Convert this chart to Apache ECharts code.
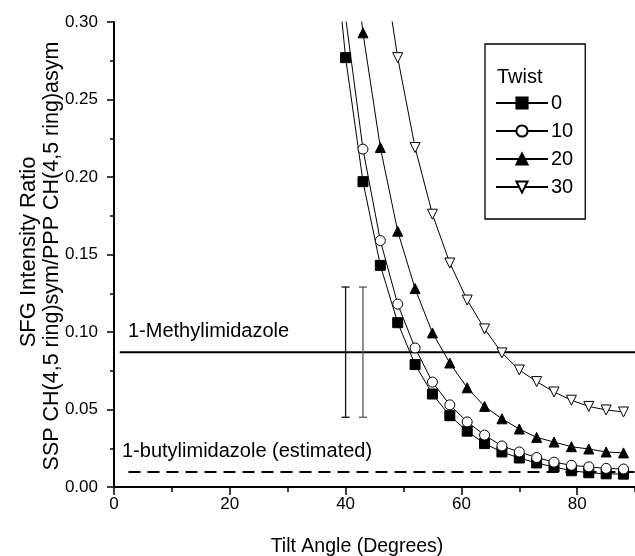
<!DOCTYPE html>
<html>
<head>
<meta charset="utf-8">
<script src="https://cdn.jsdelivr.net/npm/echarts@6/dist/echarts.min.js"></script>
<style>
	html, body { margin: 0; padding: 0; background: #fff; }
	#chart { width: 635px; height: 556px; }
</style>
</head>
<body>
<div id="chart"></div>
<script>
	// tilt angle (degrees) of each computed point
	var tilt = [37, 40, 43, 46, 49, 52, 55, 58, 61, 64, 67, 70, 73, 76, 79, 82, 85, 88];
	// ratio for each twist angle (values above 0.30 run off the top of the plot)
	var twist0 = [0.39, 0.277, 0.197, 0.143, 0.106, 0.079, 0.060, 0.046, 0.036, 0.028, 0.0226, 0.0187, 0.0155, 0.0129, 0.0105, 0.0092, 0.0085, 0.0083];
	var twist10 = [null, 0.303, 0.218, 0.159, 0.118, 0.0897, 0.0677, 0.053, 0.042, 0.0335, 0.0265, 0.0226, 0.019, 0.016, 0.014, 0.013, 0.012, 0.0116];
	var twist20 = [null, 0.39, 0.293, 0.219, 0.165, 0.128, 0.0994, 0.080, 0.064, 0.052, 0.044, 0.0374, 0.032, 0.029, 0.026, 0.0245, 0.0226, 0.022];
	var twist30 = [null, null, null, 0.35, 0.277, 0.219, 0.176, 0.1445, 0.1206, 0.102, 0.0865, 0.0755, 0.068, 0.0613, 0.056, 0.052, 0.0497, 0.0484];
	var twistNames = ['0', '10', '20', '30'];

	// measured ratios
	var methylLine = [[1, 0.087], [90, 0.087]];
	var butylLine = [[2.5, 0.0097], [90, 0.0097]];
	// error bars: [tilt, low, high]
	var errorBars = [[40, 0.045, 0.129], [43, 0.045, 0.129]];

	var xTicks = [0, 20, 40, 60, 80];

	var font = "'Liberation Sans', Arial, sans-serif";

	function pairs(ys) {
		var out = [];
		tilt.forEach(function (t, i) {
			out.push([t, ys[i]]);
		});
		return out;
	}

	function curve(name, ys, symbol, fill) {
		return {
			name: name,
			type: 'line',
			data: pairs(ys),
			symbol: symbol,
			symbolSize: 10,
			showAllSymbol: true,
			connectNulls: false,
			itemStyle: { color: fill, borderColor: '#000', borderWidth: 1 },
			lineStyle: { color: '#000', width: 1 },
			z: 5
		};
	}

	var downTri = 'path://M0,0 L10,0 L5,9 Z';

	var option = {
		backgroundColor: '#fff',
		animation: false,
		textStyle: { fontFamily: font },
		grid: {
			left: 114,
			top: 22,
			width: 579,
			height: 465,
			outerBoundsMode: 'none',
			containLabel: false
		},
		title: {
			text: 'Twist',
			left: 497,
			top: 67,
			padding: 0,
			textStyle: { fontFamily: font, fontSize: 20, fontWeight: 'normal', color: '#000' }
		},
		legend: {
			data: twistNames,
			orient: 'vertical',
			left: 485,
			top: 44,
			padding: [49, 12, 22, 10],
			itemWidth: 52,
			itemHeight: 14,
			itemGap: 8,
			borderColor: '#000',
			borderWidth: 1.3,
			textStyle: { fontFamily: font, fontSize: 20, color: '#000', padding: [0, 0, 0, -2] }
		},
		xAxis: {
			type: 'value',
			min: 0,
			max: 100,
			interval: 20,
			axisLine: { show: true, lineStyle: { color: '#000', width: 2 } },
			axisTick: { show: true, length: 8, lineStyle: { color: '#000', width: 1.5 } },
			minorTick: { show: true, splitNumber: 2, length: 5, lineStyle: { color: '#000', width: 1.5 } },
			splitLine: { show: false },
			axisLabel: {
				color: '#000',
				fontSize: 17,
				fontFamily: font,
				margin: 9,
				formatter: function (v) {
					return xTicks.indexOf(v) >= 0 ? String(v) : '';
				}
			}
		},
		yAxis: {
			type: 'value',
			min: 0,
			max: 0.3,
			interval: 0.05,
			axisLine: { show: true, lineStyle: { color: '#000', width: 2 } },
			axisTick: { show: true, length: 7, lineStyle: { color: '#000', width: 1.5 } },
			minorTick: { show: true, splitNumber: 2, length: 4, lineStyle: { color: '#000', width: 1.5 } },
			splitLine: { show: false },
			axisLabel: {
				color: '#000',
				fontSize: 17,
				fontFamily: font,
				margin: 16,
				formatter: function (v) {
					return v.toFixed(2);
				}
			}
		},
		graphic: [
			{
				type: 'text',
				x: 29, y: 252, rotation: Math.PI / 2,
				style: { text: 'SFG Intensity Ratio', font: '22px ' + font, fill: '#000', align: 'center', verticalAlign: 'middle' }
			},
			{
				type: 'text',
				x: 52, y: 256, rotation: Math.PI / 2,
				style: { text: 'SSP CH(4,5 ring)sym/PPP CH(4,5 ring)asym', font: '21.5px ' + font, fill: '#000', align: 'center', verticalAlign: 'middle' }
			},
			{
				type: 'text',
				x: 357, y: 547,
				style: { text: 'Tilt Angle (Degrees)', font: '19.5px ' + font, fill: '#000', align: 'center', verticalAlign: 'middle' }
			},
			{
				type: 'text',
				x: 128, y: 331,
				style: { text: '1-Methylimidazole', font: '20px ' + font, fill: '#000', align: 'left', verticalAlign: 'middle' }
			},
			{
				type: 'text',
				x: 122, y: 451,
				style: { text: '1-butylimidazole (estimated)', font: '20px ' + font, fill: '#000', align: 'left', verticalAlign: 'middle' }
			}
		],
		series: [
			{
				name: 'methyl',
				type: 'line',
				data: methylLine,
				symbol: 'none',
				lineStyle: { color: '#000', width: 2 },
				z: 3
			},
			{
				name: 'butyl',
				type: 'line',
				data: butylLine,
				symbol: 'none',
				lineStyle: { color: '#000', width: 2, type: [12, 7] },
				z: 3
			},
			{
				name: 'error',
				type: 'custom',
				data: errorBars,
				z: 4,
				renderItem: function (params, api) {
					var x = api.value(0);
					var top = api.coord([x, api.value(2)]);
					var bot = api.coord([x, api.value(1)]);
					var w = 4;
					var stroke = params.dataIndex === 0 ? '#111' : '#555';
					var st = { stroke: stroke, lineWidth: 1.3 };
					return {
						type: 'group',
						children: [
							{ type: 'line', shape: { x1: top[0], y1: top[1], x2: bot[0], y2: bot[1] }, style: st },
							{ type: 'line', shape: { x1: top[0] - w, y1: top[1], x2: top[0] + w, y2: top[1] }, style: st },
							{ type: 'line', shape: { x1: bot[0] - w, y1: bot[1], x2: bot[0] + w, y2: bot[1] }, style: st }
						]
					};
				}
			},
			curve('0', twist0, 'rect', '#000'),
			curve('10', twist10, 'circle', '#fff'),
			curve('20', twist20, 'triangle', '#000'),
			curve('30', twist30, downTri, '#fff')
		]
	};

	var myChart = echarts.init(document.getElementById('chart'));
	myChart.setOption(option);
</script>
</body>
</html>
